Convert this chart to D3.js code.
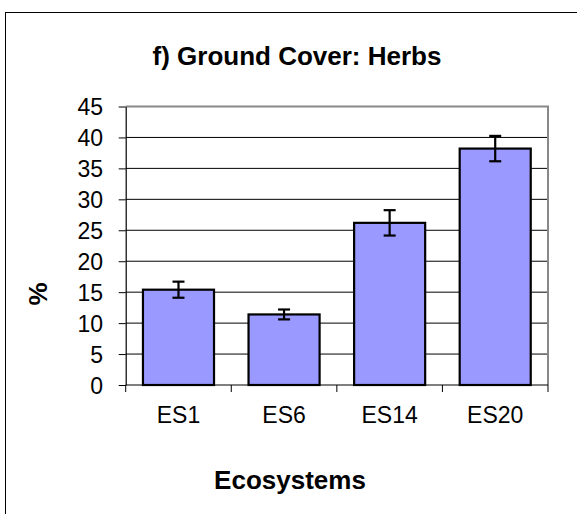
<!DOCTYPE html>
<html>
<head>
<meta charset="utf-8">
<script src="https://cdn.jsdelivr.net/npm/d3@7"></script>
<style>
  html, body { margin: 0; padding: 0; background: #fff; }
  svg { display: block; }
  text { font-family: "Liberation Sans", Arial, sans-serif; fill: #000; }
</style>
</head>
<body>
<svg id="chart" width="577" height="514"></svg>
<script>
// ---- data ----
const categories = ["ES1", "ES6", "ES14", "ES20"];
const values = [15.4, 11.4, 26.2, 38.2];
const errors = [1.3, 0.8, 2.05, 2.05];
const yTicks = [0, 5, 10, 15, 20, 25, 30, 35, 40, 45];
const titleText = "f) Ground Cover: Herbs";
const xTitle = "Ecosystems";
const yTitle = "%";

const svg = d3.select("#chart");
const plot = { left: 125.7, right: 548, top: 106.5, bottom: 385 };

// outer chart frame (extends beyond visible area)
svg.append("rect")
  .attr("x", 5.5).attr("y", 12.5)
  .attr("width", 620).attr("height", 620)
  .attr("fill", "#fff").attr("stroke", "#000").attr("stroke-width", 1);

const x = d3.scaleBand().domain(categories)
  .range([plot.left, plot.right])
  .paddingInner(0.327).paddingOuter(0.1635);
const xCat = d3.scaleBand().domain(categories)
  .range([plot.left, plot.right]).padding(0);
const y = d3.scaleLinear().domain([0, 45]).range([plot.bottom, plot.top]);

// gridlines
svg.append("g").selectAll("line").data(yTicks.filter(d => d > 0 && d < 45)).join("line")
  .attr("x1", plot.left).attr("x2", plot.right)
  .attr("y1", d => y(d)).attr("y2", d => y(d))
  .attr("stroke", "#000").attr("stroke-width", 1);

// plot area border (gray) top & right
svg.append("path")
  .attr("d", `M${plot.left},${y(45)}H${plot.right}V${plot.bottom}`)
  .attr("fill", "none").attr("stroke", "#888").attr("stroke-width", 2);

// bars
svg.append("g").selectAll("rect").data(categories).join("rect")
  .attr("x", d => x(d)).attr("width", x.bandwidth())
  .attr("y", (d, i) => y(values[i]))
  .attr("height", (d, i) => y(0) - y(values[i]))
  .attr("fill", "#9999FF").attr("stroke", "#000").attr("stroke-width", 2.2);

// error bars
const eb = svg.append("g").attr("stroke", "#000").attr("stroke-width", 2.2);
categories.forEach((c, i) => {
  const cx = x(c) + x.bandwidth() / 2;
  const y1 = y(values[i] + errors[i]), y2 = y(values[i] - errors[i]);
  eb.append("line").attr("x1", cx).attr("x2", cx).attr("y1", y1).attr("y2", y2);
  eb.append("line").attr("x1", cx - 6).attr("x2", cx + 6).attr("y1", y1).attr("y2", y1);
  eb.append("line").attr("x1", cx - 6).attr("x2", cx + 6).attr("y1", y2).attr("y2", y2);
});

// y axis
const yAxis = svg.append("g").attr("transform", `translate(${plot.left},0)`)
  .call(d3.axisLeft(y).tickValues(yTicks).tickSize(7).tickPadding(15.7).tickSizeOuter(0));
yAxis.select(".domain").attr("stroke", "#000").attr("stroke-width", 1.2);
yAxis.selectAll(".tick line").attr("stroke", "#000");
yAxis.selectAll(".tick text").attr("font-size", 23).attr("font-family", "Liberation Sans, Arial, sans-serif").attr("dy", "0.36em");

// x axis
const xAxis = svg.append("g").attr("transform", `translate(0,${plot.bottom})`)
  .call(d3.axisBottom(x).tickSize(0).tickPadding(22).tickSizeOuter(0));
xAxis.select(".domain").remove();
xAxis.selectAll(".tick text").attr("font-size", 23).attr("font-family", "Liberation Sans, Arial, sans-serif");
svg.append("line").attr("x1", plot.left).attr("x2", plot.right)
  .attr("y1", plot.bottom).attr("y2", plot.bottom)
  .attr("stroke", "#000").attr("stroke-width", 1.2);
const sepPos = categories.map(c => xCat(c)).concat([plot.right]);
svg.append("g").selectAll("line").data(sepPos).join("line")
  .attr("x1", d => d).attr("x2", d => d)
  .attr("y1", plot.bottom).attr("y2", plot.bottom + 7)
  .attr("stroke", "#000").attr("stroke-width", 1);

// titles
svg.append("text").attr("x", 297).attr("y", 65)
  .attr("text-anchor", "middle").attr("font-size", 26).attr("font-weight", "bold")
  .text(titleText);
svg.append("text").attr("x", 290).attr("y", 489)
  .attr("text-anchor", "middle").attr("font-size", 26).attr("font-weight", "bold")
  .text(xTitle);
svg.append("text").attr("transform", "translate(46.5,294) rotate(-90)")
  .attr("text-anchor", "middle").attr("font-size", 26).attr("font-weight", "bold")
  .text(yTitle);
</script>
</body>
</html>
